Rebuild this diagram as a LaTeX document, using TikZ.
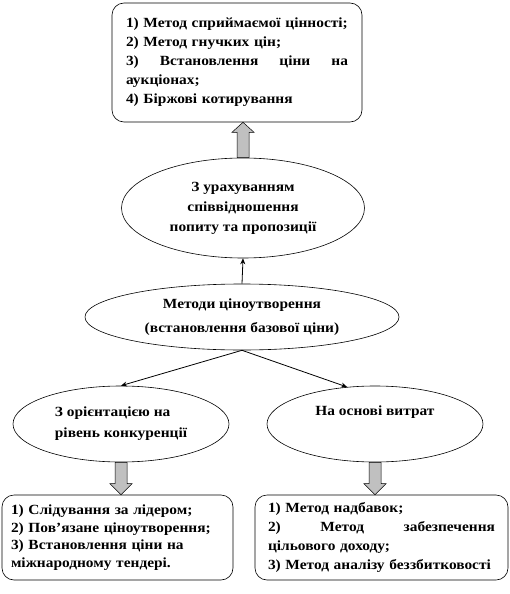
\documentclass[tikz,border=0pt]{standalone}
\usepackage{fontspec}
\setmainfont{Liberation Serif}[FakeStretch=1.1]
\usetikzlibrary{arrows.meta, calc, shapes.geometric}
\definecolor{arrgray}{HTML}{C0C0C0}
\definecolor{inkblk}{HTML}{000000}

% a line spread to a given width (words split by \hfill)
\newcommand{\fullline}[2]{\leavevmode\hbox to #1{#2}}

% wide grey arrow: from, to, signed head length
\newcommand{\blockarrow}[3]{%
  \draw[blockarr] let \p1=(#1), \p2=(#2) in
    (\x1-6pt,\y1) -- (\x1-6pt,\y2#3) -- (\x1-11pt,\y2#3) -- (\x1,\y2)
    -- (\x1+11pt,\y2#3) -- (\x1+6pt,\y2#3) -- (\x1+6pt,\y1) -- cycle;
}

\tikzset{
  listbox/.style={draw=inkblk, line width=0.6pt, rounded corners=12pt, align=left, inner sep=0pt},
  oval/.style={draw=inkblk, ellipse, line width=0.6pt, inner sep=0pt, align=center,
    font=\bfseries\fontsize{14}{20}\selectfont},
  conn/.style={->, line width=0.8pt},
  blockarr/.style={fill=arrgray, draw=inkblk, line width=0.5pt},
}

\begin{document}
\begin{tikzpicture}[x=1pt, y=-1pt, >={Stealth[length=6pt, width=5pt]}]

\useasboundingbox (0,0) rectangle (510,594);

% Top list
\node[listbox, minimum width=250pt, minimum height=119pt, text width=222pt,
  font=\bfseries\fontsize{14}{19}\selectfont] (prices) at (237,62.5)
  {1) Метод сприймаємої цінності;\\
   2) Метод гнучких цін;\\
   \fullline{222pt}{3)\hfill Встановлення\hfill ціни\hfill на}\\
   аукціонах;\\
   4) Біржові котирування};

% Demand and supply
\node[oval, minimum width=243pt, minimum height=100pt] (ratio) at (243,208)
  {З урахуванням\\ співвідношення\\ попиту та пропозиції};

% Main ellipse
\node[oval, minimum width=314pt, minimum height=66pt,
  font=\bfseries\fontsize{14}{24}\selectfont] (methods) at (242,317)
  {Методи ціноутворення\\ (встановлення базової ціни)};

% Competition
\node[oval, minimum width=216pt, minimum height=76pt, align=left,
  font=\bfseries\fontsize{14}{21}\selectfont] (compet) at (121,424)
  {З орієнтацією на\\ рівень конкуренції};

% Costs
\node[oval, minimum width=216pt, minimum height=76pt] (costs) at (375,424) {};
\node[font=\bfseries\fontsize{14}{20}\selectfont] (coststext) at (375,412) {На основі витрат};

% Bottom lists
\node[listbox, minimum width=231pt, minimum height=85pt, text width=213pt,
  font=\bfseries\fontsize{14}{17.5}\selectfont] (competlist) at (117.5,537.5)
  {1) Слідування за лідером;\\
   2) Пов’язане ціноутворення;\\
   3) Встановлення ціни на\\
   міжнародному тендері.};
\node[listbox, minimum width=253pt, minimum height=85pt, text width=227pt,
  font=\bfseries\fontsize{14}{19}\selectfont] (costlist) at (381.5,537.5)
  {1) Метод надбавок;\\
   \fullline{227pt}{2)\hfill Метод\hfill забезпечення}\\
   цільового доходу;\\
   3) Метод аналізу беззбитковості};

% Thin arrows
\draw[conn] (methods.north) -- (ratio.south);
\draw[conn] (methods.south) -- (compet.north);
\draw[conn] (methods.south) -- (costs.127);

% Wide arrows
\blockarrow{ratio.north}{prices.south}{-10pt}
\blockarrow{compet.south}{competlist.north}{+11pt}
\blockarrow{costs.south}{costlist.north}{+11pt}

\end{tikzpicture}
\end{document}
